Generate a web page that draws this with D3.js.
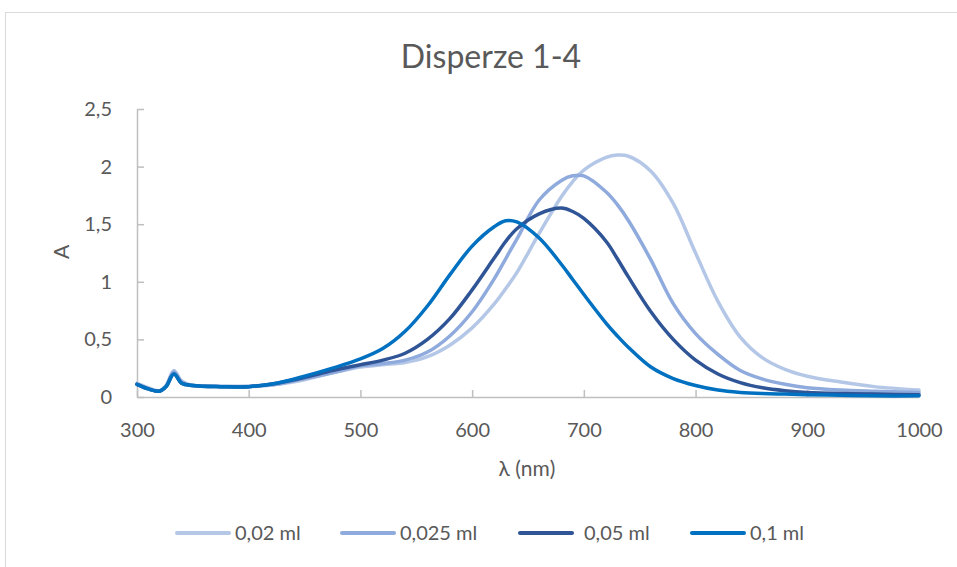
<!DOCTYPE html>
<html>
<head>
<meta charset="utf-8">
<script src="https://cdn.jsdelivr.net/npm/d3@7"></script>
<style>
  body { margin: 0; background: #fff; }
  text { font-family: Lato, "Open Sans", sans-serif; fill: #595959; }
</style>
</head>
<body>
<div class="canvas"></div>
<script>
// wavelengths (nm) shared by all series
const wavelengths = [300, 310, 320, 326, 333, 340, 350, 375, 400, 425, 450, 475, 500, 520, 540, 560, 580, 600, 620, 630, 640, 660, 680, 690, 700, 720, 730, 740, 760, 780, 800, 820, 840, 860, 880, 900, 930, 960, 1000]

const a002 = [0.12, 0.08, 0.055, 0.10, 0.23, 0.14, 0.10, 0.095, 0.095, 0.11, 0.15, 0.21, 0.26, 0.28, 0.30, 0.35, 0.45, 0.60, 0.81, 0.94, 1.08, 1.42, 1.74, 1.87, 1.97, 2.08, 2.10, 2.09, 1.96, 1.68, 1.25, 0.83, 0.52, 0.34, 0.24, 0.18, 0.13, 0.09, 0.06]
const a0025 = [0.11, 0.075, 0.05, 0.095, 0.22, 0.13, 0.10, 0.09, 0.09, 0.11, 0.16, 0.21, 0.27, 0.29, 0.32, 0.39, 0.53, 0.74, 1.03, 1.20, 1.37, 1.71, 1.88, 1.92, 1.92, 1.78, 1.67, 1.53, 1.19, 0.81, 0.55, 0.37, 0.23, 0.155, 0.11, 0.08, 0.06, 0.05, 0.04]
const a005 = [0.11, 0.07, 0.05, 0.09, 0.20, 0.12, 0.10, 0.09, 0.09, 0.12, 0.17, 0.23, 0.28, 0.32, 0.38, 0.50, 0.68, 0.93, 1.21, 1.35, 1.46, 1.59, 1.64, 1.61, 1.55, 1.35, 1.20, 1.04, 0.74, 0.50, 0.32, 0.20, 0.125, 0.08, 0.055, 0.04, 0.03, 0.025, 0.02]
const a01 = [0.11, 0.07, 0.05, 0.09, 0.20, 0.12, 0.10, 0.09, 0.09, 0.12, 0.18, 0.25, 0.33, 0.42, 0.57, 0.79, 1.06, 1.31, 1.48, 1.53, 1.52, 1.38, 1.15, 1.02, 0.89, 0.64, 0.53, 0.43, 0.26, 0.16, 0.10, 0.06, 0.04, 0.03, 0.025, 0.02, 0.015, 0.01, 0.01]

const seriesNames = ['0,02 ml', '0,025 ml', '0,05 ml', '0,1 ml']
const seriesValues = [a002, a0025, a005, a01]
const colours = ['#b4c7e7', '#8faadc', '#2f5597', '#0070c0']

const xTicks = [300, 400, 500, 600, 700, 800, 900, 1000]
const yTicks = [0, 0.5, 1, 1.5, 2, 2.5]

const dimensions = { width: 957, height: 567 }
const plot = { left: 137, right: 919, top: 109, bottom: 397 }

const svg = d3.select('.canvas')
    .append('svg')
    .attr('width', dimensions.width)
    .attr('height', dimensions.height)

// chart frame (runs off the right and bottom edges)
svg.append('rect')
    .attr('x', 5.5)
    .attr('y', 12.5)
    .attr('width', 1000)
    .attr('height', 600)
    .attr('fill', '#fff')
    .attr('stroke', '#d9d9d9')

const x = d3.scaleLinear().domain([300, 1000]).range([plot.left, plot.right])
const y = d3.scaleLinear().domain([0, 2.5]).range([plot.bottom, plot.top])

const comma = d => String(d).replace('.', ',')

svg.append('g')
    .attr('transform', `translate(0, ${plot.bottom})`)
    .call(d3.axisBottom(x).tickValues(xTicks).tickFormat(d => String(d)).tickSizeInner(-7).tickSizeOuter(0).tickPadding(26))

svg.append('g')
    .attr('transform', `translate(${plot.left}, 0)`)
    .call(d3.axisLeft(y).tickValues(yTicks).tickFormat(comma).tickSizeInner(-7).tickSizeOuter(0).tickPadding(25))

svg.selectAll('.domain, .tick line').attr('stroke', '#bfbfbf').attr('stroke-width', 1.5)
svg.selectAll('.tick text')
    .style('font-size', '20px')
    .style('font-family', 'Lato, "Open Sans", sans-serif')
    .attr('fill', '#595959')

//lines
const line = d3.line()
    .x((d, i) => x(wavelengths[i]))
    .y(d => y(d))
    .curve(d3.curveCatmullRom.alpha(0.5))

svg.append('g')
    .selectAll('path')
    .data(seriesValues)
    .enter()
    .append('path')
    .attr('d', line)
    .attr('fill', 'none')
    .attr('stroke', (d, i) => colours[i])
    .attr('stroke-width', 3.5)
    .attr('stroke-linejoin', 'round')
    .attr('stroke-linecap', 'round')

// title and axis titles
svg.append('text')
    .attr('x', 491)
    .attr('y', 68)
    .attr('text-anchor', 'middle')
    .style('font-size', '32px')
    .text('Disperze 1-4')

svg.append('text')
    .attr('x', 527)
    .attr('y', 476)
    .attr('text-anchor', 'middle')
    .style('font-size', '21px')
    .text('λ (nm)')

svg.append('text')
    .attr('transform', 'translate(69, 252) rotate(-90)')
    .attr('text-anchor', 'middle')
    .style('font-size', '21px')
    .text('A')

// legend
const legendX = [177, 342, 520, 692]
const legend = svg.append('g')
    .selectAll('g')
    .data(seriesNames)
    .enter()
    .append('g')
    .attr('transform', (d, i) => `translate(${legendX[i]}, 533)`)

legend.append('line')
    .attr('x1', 0)
    .attr('x2', 52)
    .attr('stroke', (d, i) => colours[i])
    .attr('stroke-width', 4)
    .attr('stroke-linecap', 'round')

legend.append('text')
    .attr('x', (d, i) => i == 2 ? 64 : 58)
    .attr('dy', '0.35em')
    .style('font-size', '20px')
    .text(d => d)
</script>
</body>
</html>
